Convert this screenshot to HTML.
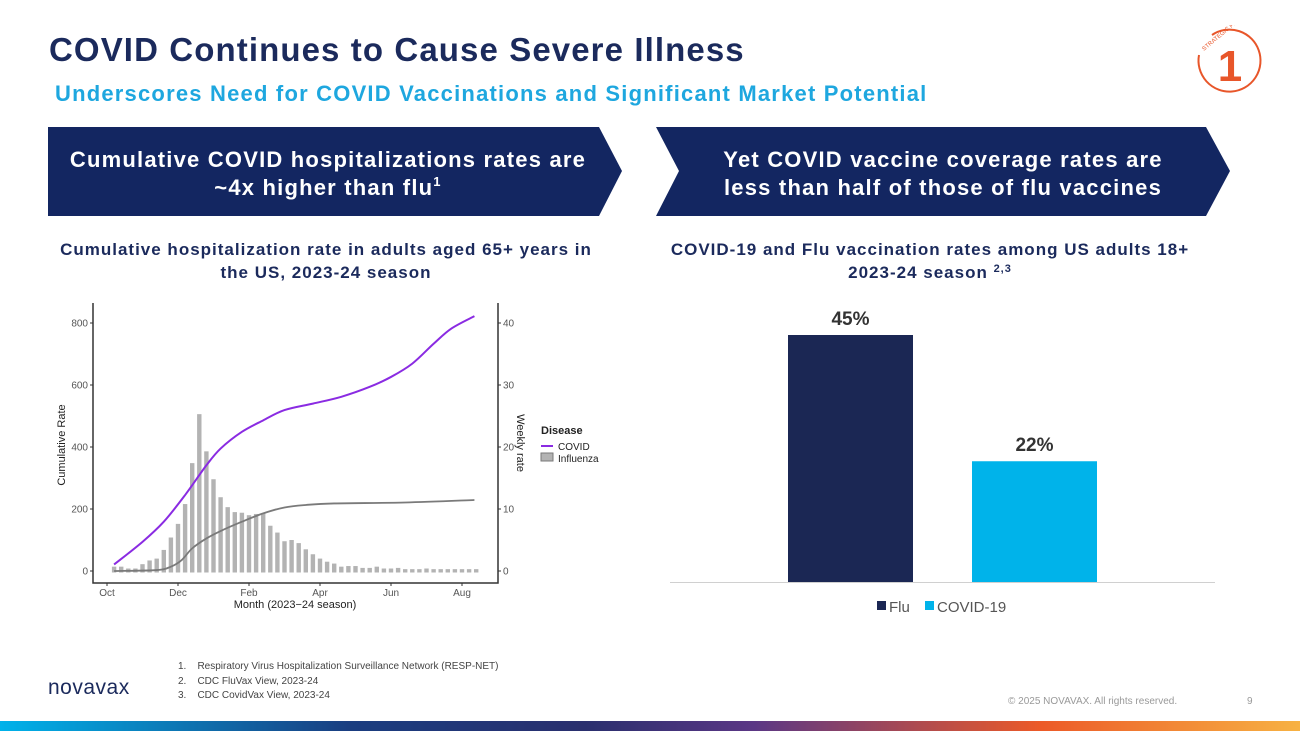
<!DOCTYPE html>
<html><head><meta charset="utf-8">
<style>
body{margin:0;width:1300px;height:731px;overflow:hidden;background:#fff;font-family:"Liberation Sans",sans-serif;position:relative}
.abs{position:absolute}
</style></head><body>
<div class="abs" style="left:49px;top:31px;font-size:33px;font-weight:bold;color:#1b2a5c;letter-spacing:1.1px">COVID Continues to Cause Severe Illness</div>
<div class="abs" style="left:55px;top:81px;font-size:22px;font-weight:bold;color:#1ea7df;letter-spacing:1.2px">Underscores Need for COVID Vaccinations and Significant Market Potential</div>
<svg class="abs" style="left:1190px;top:25px" width="80" height="75" viewBox="0 0 80 75">
<path d="M22 10 A31 31 0 1 1 9 30" fill="none" stroke="#e8562a" stroke-width="2"/>
<text x="40" y="56" text-anchor="middle" font-size="44" font-weight="bold" fill="#e8562a" font-family="Liberation Sans">1</text>
<text x="14" y="26" font-size="6" fill="#e8562a" transform="rotate(-40 14 26)">STRATEGIC PRIORITY</text>
</svg>
<svg class="abs" style="left:0;top:0" width="1300" height="731">
<polygon points="48,127 599,127 622,171 599,216 48,216" fill="#132661"/>
<polygon points="656,127 1206,127 1230,171 1206,216 656,216 679,171" fill="#132661"/>
<g font-size="22" font-weight="bold" fill="#fff" text-anchor="middle" letter-spacing="1.2">
<text x="328" y="167">Cumulative COVID hospitalizations rates are</text>
<text x="328" y="195">~4x higher than flu<tspan font-size="13" dy="-9">1</tspan></text>
<text x="943" y="167">Yet COVID vaccine coverage rates are</text>
<text x="943" y="195">less than half of those of flu vaccines</text>
</g>
<g font-size="17" font-weight="bold" fill="#1b2a5c" text-anchor="middle" letter-spacing="1">
<text x="326" y="255">Cumulative hospitalization rate in adults aged 65+ years in</text>
<text x="326" y="278">the US, 2023-24 season</text>
<text x="930" y="255">COVID-19 and Flu vaccination rates among US adults 18+</text>
<text x="930" y="278">2023-24 season <tspan font-size="11" dy="-6">2,3</tspan></text>
</g>
</svg>

<svg id="left" class="abs" style="left:0;top:0" width="640" height="640"></svg>
<svg id="right" class="abs" style="left:0;top:0" width="1300" height="640"></svg>

<div class="abs" style="left:48px;top:676px;font-size:21px;color:#1b2a5c;letter-spacing:0.5px">novavax</div>
<div class="abs" style="left:178px;top:660px;font-size:10px;color:#444;line-height:14.5px">
<div>1.&nbsp;&nbsp;&nbsp;&nbsp;Respiratory Virus Hospitalization Surveillance Network (RESP-NET)</div>
<div>2.&nbsp;&nbsp;&nbsp;&nbsp;CDC FluVax View, 2023-24</div>
<div>3.&nbsp;&nbsp;&nbsp;&nbsp;CDC CovidVax View, 2023-24</div></div>
<div class="abs" style="left:1008px;top:696px;font-size:10px;color:#999">© 2025 NOVAVAX. All rights reserved.</div>
<div class="abs" style="left:1247px;top:696px;font-size:10px;color:#999">9</div>
<div class="abs" style="left:0;top:721px;width:1300px;height:10px;background:linear-gradient(90deg,#00b2ea 0%,#1a3d80 27%,#2a2f6e 45%,#5b3785 58%,#ec5a28 80%,#f7b243 100%)"></div>

<script>
// Left chart data
const weeklyFlu=[0.7,0.7,0.4,0.4,1.1,1.7,2,3.4,5.4,7.6,10.8,17.4,25.3,19.3,14.8,11.9,10.3,9.5,9.4,9,9.2,9.3,7.3,6.2,4.8,5,4.5,3.5,2.7,2,1.5,1.2,0.7,0.8,0.8,0.5,0.5,0.7,0.4,0.4,0.5,0.3,0.3,0.3,0.4,0.3,0.3,0.3,0.3,0.3,0.3,0.3];
const covidMonths=[0.2,1.0,1.6,2.2,2.8,3.2,3.8,4.4,5.0,5.8,6.6,7.4,8.0,8.6,9.2,9.7,10.35];
const covidCum=[21,94,159,245,341,395,449,486,519,540,562,594,626,669,733,782,822];
const fluMonths=[0.2,1.4,1.8,2.1,2.4,2.8,3.2,3.8,4.4,5.0,5.6,6.4,8.4,10.35];
const fluCum=[0,3,14,35,73,105,129,159,186,205,213,218,221,229];
const leftTicks=[0,200,400,600,800];
const rightTicks=[0,10,20,30,40];
const monthLabels=["Oct","Dec","Feb","Apr","Jun","Aug"];
// Right chart data
const vaxCategories=["Flu","COVID-19"];
const vaxValues=[45,22];
const vaxLabels=["45%","22%"];

const NS="http://www.w3.org/2000/svg";
function mk(p,t,a){const e=document.createElementNS(NS,t);for(const k in a)e.setAttribute(k,a[k]);p.appendChild(e);return e;}
const L=document.getElementById('left');
const xM=m=>107+m*35.5;
const yC=v=>571-v*(248/800);
const yW=v=>571-v*(248/40);
let ax=mk(L,'path',{d:'M93 303 V583 H498 V303',fill:'none',stroke:'#333','stroke-width':1.5});

leftTicks.forEach(t=>{mk(L,'line',{x1:90,x2:93,y1:yC(t),y2:yC(t),stroke:'#333'});
 const tx=mk(L,'text',{x:88,y:yC(t)+3.5,'text-anchor':'end','font-size':10,fill:'#555'});tx.textContent=t;
 });
rightTicks.forEach(t=>{mk(L,'line',{x1:498,x2:501,y1:yW(t),y2:yW(t),stroke:'#333'});
 const tx=mk(L,'text',{x:503,y:yW(t)+3.5,'font-size':10,fill:'#555'});tx.textContent=t;
 });
monthLabels.forEach((m,i)=>{const x=xM(i*2);mk(L,'line',{x1:x,x2:x,y1:583,y2:586,stroke:'#333'});
 const tx=mk(L,'text',{x:x,y:596,'text-anchor':'middle','font-size':10,fill:'#555'});tx.textContent=m;
 });
weeklyFlu.forEach((v,i)=>{const x=xM(0.2+i*0.2);const r=mk(L,'rect',{x:x-2.2,y:yW(v),width:4.4,height:Math.max(1.5,yW(0)-yW(v)+1.5),fill:'#b3b3b3'});
 });
function smooth(xs,ys){let d='M'+xs[0]+' '+ys[0];for(let i=0;i<xs.length-1;i++){const x0=xs[Math.max(0,i-1)],y0=ys[Math.max(0,i-1)],x1=xs[i],y1=ys[i],x2=xs[i+1],y2=ys[i+1],x3=xs[Math.min(xs.length-1,i+2)],y3=ys[Math.min(xs.length-1,i+2)];
 d+=` C${x1+(x2-x0)/6} ${y1+(y2-y0)/6} ${x2-(x3-x1)/6} ${y2-(y3-y1)/6} ${x2} ${y2}`;}return d;}
let fl=mk(L,'path',{d:smooth(fluMonths.map(xM),fluCum.map(yC)),fill:'none',stroke:'#7a7a7a','stroke-width':1.8});

let cl=mk(L,'path',{d:smooth(covidMonths.map(xM),covidCum.map(yC)),fill:'none',stroke:'#8a2be2','stroke-width':2});

function txt(p,x,y,s,a,name){const t=mk(p,'text',Object.assign({x:x,y:y},a));t.textContent=s;return t;}
txt(L,295,608,'Month (2023−24 season)',{'text-anchor':'middle','font-size':11,fill:'#222'},'x-axis-title');
txt(L,0,0,'Cumulative Rate',{'text-anchor':'middle','font-size':11,fill:'#222',transform:'translate(65,445) rotate(-90)'},'y-axis-title');
txt(L,0,0,'Weekly rate',{'text-anchor':'middle','font-size':11,fill:'#222',transform:'translate(517,443) rotate(90)'},'secondary-y-axis-title');
txt(L,541,434,'Disease',{'font-size':11,'font-weight':'bold',fill:'#222'},'legend-title');
mk(L,'line',{x1:541,x2:553,y1:446,y2:446,stroke:'#8a2be2','stroke-width':2});
txt(L,558,450,'COVID',{'font-size':10,fill:'#222'},'legend-entry-covid');
mk(L,'rect',{x:541,y:453,width:12,height:8,fill:'#b3b3b3',stroke:'#7a7a7a'});
txt(L,558,462,'Influenza',{'font-size':10,fill:'#222'},'legend-entry-influenza');

const R=document.getElementById('right');
const base=582,scale=247/45;const xs=[788,972],bw=125,cols=['#1b2754','#00b3ea'];
let ra=mk(R,'line',{x1:670,x2:1215,y1:base+0.5,y2:base+0.5,stroke:'#d0d0d0'});

vaxValues.forEach((v,i)=>{const h=v*scale;const b=mk(R,'rect',{x:xs[i],y:base-h,width:bw,height:h,fill:cols[i]});
 
 txt(R,xs[i]+bw/2,base-h-10,vaxLabels[i],{'text-anchor':'middle','font-size':19,'font-weight':'bold',fill:'#333'},'value-label');});
mk(R,'rect',{x:877,y:601,width:9,height:9,fill:cols[0]});
txt(R,889,612,'Flu',{'font-size':15,fill:'#555'},'legend-entry-flu');
mk(R,'rect',{x:925,y:601,width:9,height:9,fill:cols[1]});
txt(R,937,612,'COVID-19',{'font-size':15,fill:'#555'},'legend-entry-covid-19');
</script>
</body></html>
